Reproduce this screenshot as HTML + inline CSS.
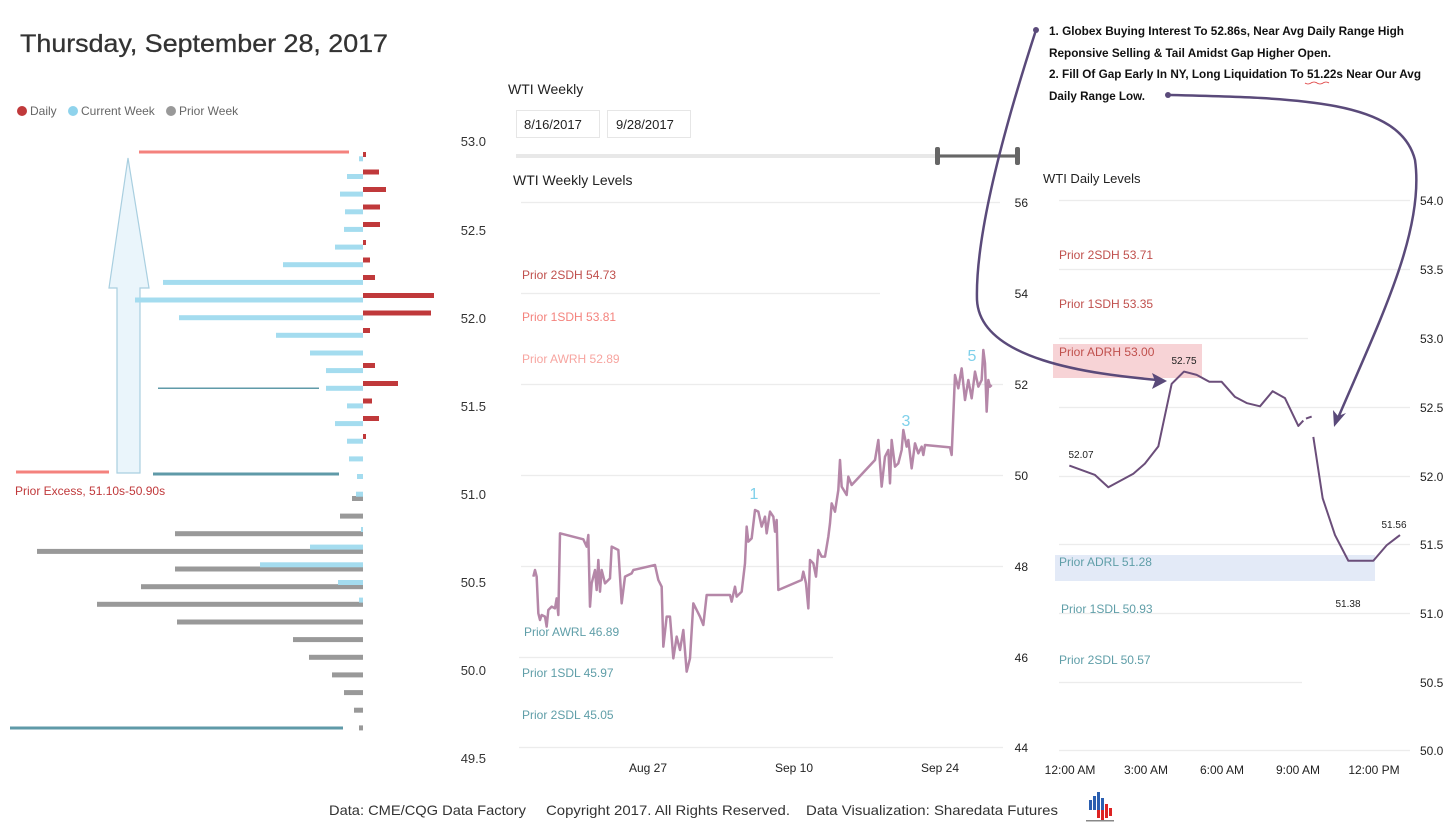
<!DOCTYPE html>
<html><head><meta charset="utf-8"><style>
html,body{margin:0;padding:0;background:#fff;}
svg{display:block;font-family:"Liberation Sans",sans-serif;}
</style></head><body>
<svg width="1454" height="829" viewBox="0 0 1454 829" xmlns="http://www.w3.org/2000/svg">
<rect width="1454" height="829" fill="#fff"/>
<!-- Title -->
<text x="20" y="52" font-size="25" fill="#333" stroke="#333" stroke-width="0.3" textLength="368" lengthAdjust="spacingAndGlyphs">Thursday, September 28, 2017</text>
<!-- Legend -->
<circle cx="22" cy="111" r="5" fill="#c0393b"/><text x="30" y="115" font-size="12" fill="#666">Daily</text>
<circle cx="73" cy="111" r="5" fill="#8fd3ec"/><text x="81" y="115" font-size="12" fill="#666">Current Week</text>
<circle cx="171" cy="111" r="5" fill="#999"/><text x="179" y="115" font-size="12" fill="#666">Prior Week</text>

<!-- Left profile axis -->
<g font-size="13" fill="#333" text-anchor="end">
<text x="486" y="146">53.0</text><text x="486" y="235">52.5</text><text x="486" y="323">52.0</text><text x="486" y="411">51.5</text><text x="486" y="499">51.0</text><text x="486" y="587">50.5</text><text x="486" y="675">50.0</text><text x="486" y="763">49.5</text>
</g>
<!-- arrow -->
<path d="M128,158 L149,288 L140,288 L140,473 L117,473 L117,288 L109,288 Z" fill="#eaf5fb" stroke="#a9cfe0" stroke-width="1.2"/>
<!-- pink & teal lines -->
<rect x="139" y="150.5" width="210" height="3" fill="#f4827d"/>
<rect x="16" y="470.5" width="93" height="3" fill="#f4827d"/>
<rect x="158" y="387.5" width="161" height="1.5" fill="#5f9aa8"/>
<rect x="153" y="472.5" width="186" height="3" fill="#5f9aa8"/>
<rect x="10" y="726.5" width="333" height="3" fill="#5f9aa8"/>
<text x="15" y="495" font-size="12" fill="#c0393b">Prior Excess, 51.10s-50.90s</text>
<!-- grey -->
<g fill="#999">
<rect x="352" y="496" width="11" height="5"/><rect x="340" y="513.6" width="23" height="5"/><rect x="175" y="531.2" width="188" height="5"/><rect x="37" y="548.9" width="326" height="5"/><rect x="175" y="566.5" width="188" height="5"/><rect x="141" y="584.2" width="222" height="5"/><rect x="97" y="601.8" width="266" height="5"/><rect x="177" y="619.5" width="186" height="5"/><rect x="293" y="637.1" width="70" height="5"/><rect x="309" y="654.8" width="54" height="5"/><rect x="332" y="672.4" width="31" height="5"/><rect x="344" y="690.1" width="19" height="5"/><rect x="354" y="707.7" width="9" height="5"/><rect x="359" y="725.4" width="4" height="5"/>
</g>
<!-- blue -->
<g fill="#a4dcef">
<rect x="359" y="156.3" width="4" height="5"/><rect x="347" y="174" width="16" height="5"/><rect x="340" y="191.6" width="23" height="5"/><rect x="345" y="209.3" width="18" height="5"/><rect x="344" y="226.9" width="19" height="5"/><rect x="335" y="244.6" width="28" height="5"/><rect x="283" y="262.2" width="80" height="5"/><rect x="163" y="279.9" width="200" height="5"/><rect x="135" y="297.5" width="228" height="5"/><rect x="179" y="315.2" width="184" height="5"/><rect x="276" y="332.8" width="87" height="5"/><rect x="310" y="350.5" width="53" height="5"/><rect x="326" y="368.1" width="37" height="5"/><rect x="326" y="385.8" width="37" height="5"/><rect x="347" y="403.4" width="16" height="5"/><rect x="335" y="421.1" width="28" height="5"/><rect x="347" y="438.7" width="16" height="5"/><rect x="349" y="456.4" width="14" height="5"/><rect x="357" y="474" width="6" height="5"/><rect x="356" y="491.7" width="7" height="5"/><rect x="361" y="527" width="2" height="5"/><rect x="310" y="544.6" width="53" height="5"/><rect x="260" y="562.3" width="103" height="5"/><rect x="338" y="580" width="25" height="5"/><rect x="359" y="597.6" width="4" height="5"/>
</g>
<!-- red -->
<g fill="#c0393b">
<rect x="363" y="152" width="3" height="5"/><rect x="363" y="169.5" width="16" height="5"/><rect x="363" y="187" width="23" height="5"/><rect x="363" y="204.5" width="17" height="5"/><rect x="363" y="222" width="17" height="5"/><rect x="363" y="240" width="3" height="5"/><rect x="363" y="257.5" width="7" height="5"/><rect x="363" y="275" width="12" height="5"/><rect x="363" y="293" width="71" height="5"/><rect x="363" y="310.5" width="68" height="5"/><rect x="363" y="328" width="7" height="5"/><rect x="363" y="363" width="12" height="5"/><rect x="363" y="381" width="35" height="5"/><rect x="363" y="398.5" width="9" height="5"/><rect x="363" y="416" width="16" height="5"/><rect x="363" y="434" width="3" height="5"/>
</g>

<!-- Weekly slicer -->
<text x="508" y="94" font-size="14" fill="#222">WTI Weekly</text>
<rect x="516.5" y="110.5" width="83" height="27" fill="#fff" stroke="#e6e6e6"/>
<rect x="607.5" y="110.5" width="83" height="27" fill="#fff" stroke="#e6e6e6"/>
<text x="524" y="129" font-size="13" fill="#222">8/16/2017</text>
<text x="616" y="129" font-size="13" fill="#222">9/28/2017</text>
<rect x="516" y="154" width="502" height="4" fill="#e8e8e8"/>
<rect x="937" y="154.5" width="81" height="3" fill="#666"/>
<rect x="935" y="147" width="5" height="18" rx="2" fill="#666"/>
<rect x="1015" y="147" width="5" height="18" rx="2" fill="#666"/>
<text x="513" y="185" font-size="14" fill="#222">WTI Weekly Levels</text>

<!-- Weekly grid -->
<g stroke="#ececec" stroke-width="1.2">
<line x1="521" y1="202.5" x2="1000" y2="202.5"/><line x1="521" y1="293.5" x2="880" y2="293.5"/><line x1="521" y1="384.5" x2="1003" y2="384.5"/><line x1="521" y1="475.5" x2="1003" y2="475.5"/><line x1="521" y1="566.5" x2="1003" y2="566.5"/><line x1="519" y1="657.5" x2="833" y2="657.5"/><line x1="519" y1="747.5" x2="1003" y2="747.5"/>
</g>
<g font-size="12" fill="#222" text-anchor="end">
<text x="1028" y="207">56</text><text x="1028" y="298">54</text><text x="1028" y="389">52</text><text x="1028" y="480">50</text><text x="1028" y="571">48</text><text x="1028" y="662">46</text><text x="1028" y="752">44</text>
</g>
<g font-size="12" fill="#222" text-anchor="middle">
<text x="648" y="772">Aug 27</text><text x="794" y="772">Sep 10</text><text x="940" y="772">Sep 24</text>
</g>
<g font-size="12">
<text x="522" y="279" fill="#c0504d">Prior 2SDH 54.73</text>
<text x="522" y="321" fill="#f4837d">Prior 1SDH 53.81</text>
<text x="522" y="363" fill="#f7a5a0">Prior AWRH 52.89</text>
<text x="524" y="636" fill="#5f9ea8">Prior AWRL 46.89</text>
<text x="522" y="677" fill="#5f9ea8">Prior 1SDL 45.97</text>
<text x="522" y="719" fill="#5f9ea8">Prior 2SDL 45.05</text>
</g>
<g transform="translate(500,330) scale(0.33333)">
<polyline fill="none" stroke="#b587a8" stroke-width="2.5" vector-effect="non-scaling-stroke" stroke-linejoin="round" points="100,740 105,720 110,740 115,850 120,870 125,855 135,860 140,890 145,840 155,830 165,835 170,805 175,855 180,610 250,628 260,650 265,615 270,830 275,760 285,720 290,780 295,690 300,785 305,720 315,760 330,745 335,650 355,660 365,820 375,740 395,730 400,720 465,705 475,750 485,770 490,950 500,860 510,860 520,985 530,920 540,960 550,900 560,1025 570,985 580,820 590,840 600,860 610,885 620,795 690,795 695,815 705,770 710,800 725,785 735,700 740,590 745,635 755,625 765,540 775,545 785,590 795,560 800,610 810,545 820,560 825,605 830,570 835,780 905,750 910,725 918,760 925,835 930,690 940,700 948,740 955,660 965,680 975,680 985,620 990,580 995,520 1005,545 1015,480 1020,390 1025,470 1040,495 1045,440 1055,465 1125,390 1135,330 1145,470 1155,380 1165,360 1170,460 1175,330 1185,410 1195,400 1205,360 1210,300 1220,350 1225,330 1235,415 1245,340 1255,370 1265,350 1270,375 1275,345 1350,352 1355,375 1365,135 1375,175 1385,115 1395,210 1405,150 1415,205 1425,125 1435,170 1445,150 1450,60 1455,100 1460,245 1465,150 1470,170 1475,165"/>
</g>
<g font-size="16" fill="#7fd0ea" text-anchor="middle">
<text x="754" y="499">1</text><text x="906" y="426">3</text><text x="972" y="361">5</text>
</g>

<!-- Daily chart -->
<text x="1043" y="183" font-size="13" fill="#222">WTI Daily Levels</text>
<rect x="1053" y="344" width="149" height="34" fill="#f7d3d6"/>
<rect x="1055" y="555" width="320" height="26" fill="#e3eaf7"/>
<g stroke="#ececec" stroke-width="1.2">
<line x1="1059" y1="200.5" x2="1410" y2="200.5"/><line x1="1059" y1="269.5" x2="1410" y2="269.5"/><line x1="1059" y1="338.5" x2="1308" y2="338.5"/><line x1="1059" y1="407.5" x2="1410" y2="407.5"/><line x1="1059" y1="476.5" x2="1410" y2="476.5"/><line x1="1059" y1="544.5" x2="1410" y2="544.5"/><line x1="1059" y1="613.5" x2="1410" y2="613.5"/><line x1="1059" y1="682.5" x2="1302" y2="682.5"/><line x1="1059" y1="750.5" x2="1410" y2="750.5"/>
</g>
<g font-size="12" fill="#222">
<text x="1420" y="205">54.0</text><text x="1420" y="274">53.5</text><text x="1420" y="343">53.0</text><text x="1420" y="412">52.5</text><text x="1420" y="481">52.0</text><text x="1420" y="549">51.5</text><text x="1420" y="618">51.0</text><text x="1420" y="687">50.5</text><text x="1420" y="755">50.0</text>
</g>
<g font-size="12">
<text x="1059" y="259" fill="#c0504d">Prior 2SDH 53.71</text>
<text x="1059" y="308" fill="#c0504d">Prior 1SDH 53.35</text>
<text x="1059" y="356" fill="#c0504d">Prior ADRH 53.00</text>
<text x="1059" y="566" fill="#5f9ea8">Prior ADRL 51.28</text>
<text x="1061" y="613" fill="#5f9ea8">Prior 1SDL 50.93</text>
<text x="1059" y="664" fill="#5f9ea8">Prior 2SDL 50.57</text>
</g>
<g transform="translate(1020,148.9) scale(0.33333,0.4086)" fill="none" stroke="#6b4e7a" stroke-width="2" stroke-linejoin="round">
<polyline vector-effect="non-scaling-stroke" points="148,775 225,798 265,828 340,795 375,770 415,728 455,575 492,545 530,553 568,570 605,570 645,607 680,622 720,630 758,593 795,610 835,678 850,665"/>
<polyline vector-effect="non-scaling-stroke" points="858,660 875,655"/>
<polyline vector-effect="non-scaling-stroke" points="880,705 908,855 945,945 985,1008 1060,1008 1100,970 1140,945"/>
</g>
<g font-size="10" fill="#222" text-anchor="middle">
<text x="1081" y="458">52.07</text><text x="1184" y="364">52.75</text><text x="1348" y="607">51.38</text><text x="1394" y="528">51.56</text>
</g>
<g font-size="12" fill="#222" text-anchor="middle">
<text x="1070" y="774">12:00 AM</text><text x="1146" y="774">3:00 AM</text><text x="1222" y="774">6:00 AM</text><text x="1298" y="774">9:00 AM</text><text x="1374" y="774">12:00 PM</text>
</g>

<!-- Annotation -->
<g font-size="12" fill="#111" font-weight="bold">
<text x="1049" y="35" textLength="355" lengthAdjust="spacingAndGlyphs">1. Globex Buying Interest To 52.86s, Near Avg Daily Range High</text>
<text x="1049" y="57" textLength="282" lengthAdjust="spacingAndGlyphs">Reponsive Selling &amp; Tail Amidst Gap Higher Open.</text>
<text x="1049" y="78" textLength="372" lengthAdjust="spacingAndGlyphs">2. Fill Of Gap Early In NY, Long Liquidation To 51.22s Near Our Avg</text>
<text x="1049" y="100" textLength="96" lengthAdjust="spacingAndGlyphs">Daily Range Low.</text>
</g>
<path d="M1305,83 q3,2 6,0 q3,-2 6,0 q3,2 6,0 q3,-2 6,0" stroke="#d33" stroke-width="0.8" fill="none"/>
<g stroke="#5a4a7a" stroke-width="2.5" fill="none">
<path d="M1036,30 C1010,110 975,230 977,300 C980,360 1090,374 1158,380"/>
<path d="M1168,95 C1300,98 1400,100 1415,160 C1425,230 1380,320 1338,418"/>
</g>
<circle cx="1036" cy="30" r="3" fill="#5a4a7a"/>
<circle cx="1168" cy="95" r="3" fill="#5a4a7a"/>
<path d="M1167,381 L1152,373 L1155,381 L1152,389 Z" fill="#5a4a7a"/>
<path d="M1334,427 L1333,410 L1338,416 L1346,413 Z" fill="#5a4a7a"/>

<!-- Footer -->
<text x="329" y="815" font-size="14" fill="#333" textLength="197" lengthAdjust="spacingAndGlyphs">Data: CME/CQG Data Factory</text>
<text x="546" y="815" font-size="14" fill="#333" textLength="244" lengthAdjust="spacingAndGlyphs">Copyright 2017. All Rights Reserved.</text>
<text x="806" y="815" font-size="14" fill="#333" textLength="252" lengthAdjust="spacingAndGlyphs">Data Visualization: Sharedata Futures</text>
<g>
<rect x="1089" y="800" width="3" height="10" fill="#2b5fb0"/><rect x="1093" y="796" width="3" height="14" fill="#2b5fb0"/><rect x="1097" y="792" width="3" height="18" fill="#2b5fb0"/><rect x="1101" y="798" width="3" height="12" fill="#2b5fb0"/>
<rect x="1097" y="810" width="3" height="8" fill="#d22"/><rect x="1101" y="810" width="3" height="10" fill="#d22"/><rect x="1105" y="804" width="3" height="14" fill="#d22"/><rect x="1109" y="808" width="3" height="8" fill="#d22"/>
<rect x="1086" y="820" width="28" height="1.5" fill="#888"/>
</g>
</svg>
</body></html>
